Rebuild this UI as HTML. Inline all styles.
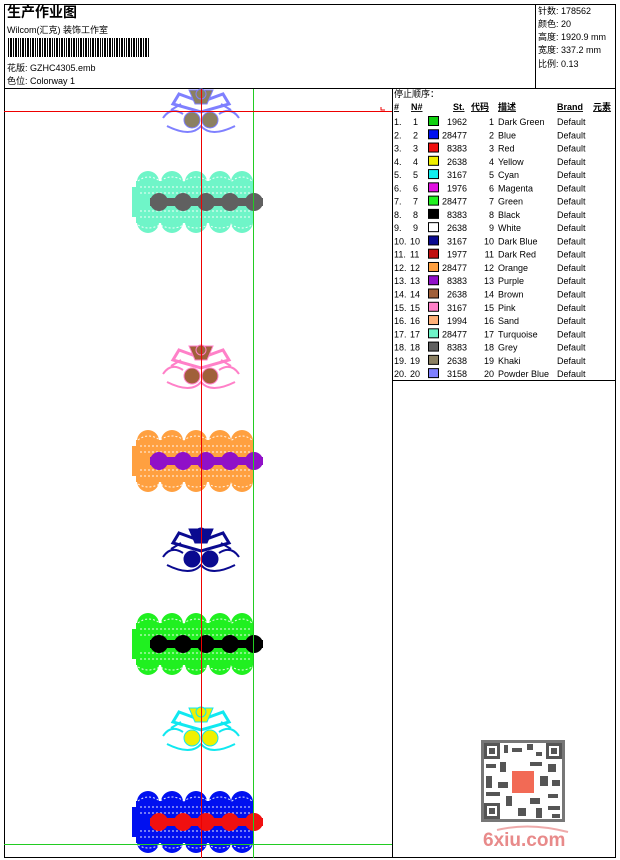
<!DOCTYPE html>
<html><head><meta charset="utf-8"><style>
body{margin:0;background:#fff;width:620px;height:860px;overflow:hidden}
svg{display:block}
text{font-family:"Liberation Sans","Noto Sans CJK SC",sans-serif;font-size:9px;fill:#000}
</style></head><body>
<svg width="620" height="860" viewBox="0 0 620 860">
<defs>
<g id="band">
  <rect x="136" y="8" width="117" height="42" fill="currentColor"/>
  <circle cx="148" cy="9" r="11" fill="currentColor"/><circle cx="172" cy="9" r="11" fill="currentColor"/><circle cx="196" cy="9" r="11" fill="currentColor"/><circle cx="220" cy="9" r="11" fill="currentColor"/><circle cx="242" cy="9" r="11" fill="currentColor"/>
  <circle cx="148" cy="49" r="11" fill="currentColor"/><circle cx="172" cy="49" r="11" fill="currentColor"/><circle cx="196" cy="49" r="11" fill="currentColor"/><circle cx="220" cy="49" r="11" fill="currentColor"/><circle cx="242" cy="49" r="11" fill="currentColor"/>
  <rect x="132" y="14" width="6" height="30" fill="currentColor"/>
  <g stroke="#fff" stroke-width="1" stroke-dasharray="2 2" opacity=".9" fill="none">
   <line x1="140" y1="14" x2="250" y2="14"/><line x1="140" y1="20" x2="250" y2="20"/><line x1="140" y1="38" x2="250" y2="38"/><line x1="140" y1="44" x2="250" y2="44"/>
   <path d="M138 8 Q148 0 160 8 Q172 0 184 8 Q196 0 208 8 Q220 0 232 8 Q242 0 252 8"/>
   <path d="M138 52 Q148 58 160 52 Q172 58 184 52 Q196 58 208 52 Q220 58 232 52 Q242 58 252 52"/>
  </g>
</g>
<g id="flowers">
  <circle cx="159" r="9"/><circle cx="183" r="9"/><circle cx="206" r="9"/><circle cx="230" r="9"/><circle cx="254" r="9"/>
  <rect x="150" y="-4" width="113" height="8"/>
</g>
<g id="orn">
  <path d="M-22 -20 L0 -12 L22 -20 L28 -10 L0 -2 L-28 -10 Z" stroke-width="3" fill="none"/>
  <path d="M-12 -24 L12 -24 L6 -10 L-6 -10 Z"/>
  <circle cx="0" cy="-20" r="5"/>
  <circle cx="-9" cy="6" r="8"/><circle cx="9" cy="6" r="8"/>
  <path d="M-38 4 Q-30 -8 -18 0 M38 4 Q30 -8 18 0 M-34 12 Q-10 24 0 12 Q10 24 34 12 M-30 -4 L-20 -10 M30 -4 L20 -10" fill="none" stroke-width="2"/>
</g>
</defs>
<rect x="4.5" y="4.5" width="611" height="853" fill="none" stroke="#000"/>
<line x1="4" y1="88.5" x2="616" y2="88.5" stroke="#000"/>
<line x1="535.5" y1="4" x2="535.5" y2="88" stroke="#000"/>
<line x1="392.5" y1="88" x2="392.5" y2="858" stroke="#000"/>
<line x1="392" y1="380.5" x2="616" y2="380.5" stroke="#000"/>
<text x="7" y="17" style="font-size:14px;font-weight:bold">生产作业图</text>
<text x="7" y="33">Wilcom(汇克) 装饰工作室</text>
<g fill="#000">
<rect x="8" y="38" width="1" height="19"/><rect x="10" y="38" width="2" height="19"/><rect x="13" y="38" width="1" height="19"/><rect x="15" y="38" width="2" height="19"/><rect x="18" y="38" width="1" height="19"/><rect x="20" y="38" width="1" height="19"/><rect x="22" y="38" width="2" height="19"/><rect x="25" y="38" width="1" height="19"/><rect x="27" y="38" width="2" height="19"/><rect x="30" y="38" width="1" height="19"/><rect x="32" y="38" width="2" height="19"/><rect x="35" y="38" width="1" height="19"/><rect x="37" y="38" width="1" height="19"/><rect x="39" y="38" width="2" height="19"/><rect x="42" y="38" width="1" height="19"/><rect x="44" y="38" width="2" height="19"/><rect x="47" y="38" width="1" height="19"/><rect x="49" y="38" width="2" height="19"/><rect x="52" y="38" width="1" height="19"/><rect x="54" y="38" width="1" height="19"/><rect x="56" y="38" width="2" height="19"/><rect x="59" y="38" width="1" height="19"/><rect x="61" y="38" width="2" height="19"/><rect x="64" y="38" width="1" height="19"/><rect x="66" y="38" width="1" height="19"/><rect x="68" y="38" width="2" height="19"/><rect x="71" y="38" width="1" height="19"/><rect x="73" y="38" width="2" height="19"/><rect x="76" y="38" width="1" height="19"/><rect x="78" y="38" width="1" height="19"/><rect x="80" y="38" width="2" height="19"/><rect x="83" y="38" width="1" height="19"/><rect x="85" y="38" width="2" height="19"/><rect x="88" y="38" width="1" height="19"/><rect x="90" y="38" width="1" height="19"/><rect x="92" y="38" width="2" height="19"/><rect x="95" y="38" width="1" height="19"/><rect x="97" y="38" width="2" height="19"/><rect x="100" y="38" width="1" height="19"/><rect x="102" y="38" width="1" height="19"/><rect x="104" y="38" width="2" height="19"/><rect x="107" y="38" width="1" height="19"/><rect x="109" y="38" width="2" height="19"/><rect x="112" y="38" width="1" height="19"/><rect x="114" y="38" width="1" height="19"/><rect x="116" y="38" width="2" height="19"/><rect x="119" y="38" width="1" height="19"/><rect x="121" y="38" width="2" height="19"/><rect x="124" y="38" width="1" height="19"/><rect x="126" y="38" width="1" height="19"/><rect x="128" y="38" width="2" height="19"/><rect x="131" y="38" width="1" height="19"/><rect x="133" y="38" width="2" height="19"/><rect x="136" y="38" width="1" height="19"/><rect x="138" y="38" width="1" height="19"/><rect x="140" y="38" width="2" height="19"/><rect x="143" y="38" width="1" height="19"/><rect x="145" y="38" width="2" height="19"/><rect x="148" y="38" width="1" height="19"/>
</g>
<text x="7" y="71">花版:  GZHC4305.emb</text>
<text x="7" y="84">色位:  Colorway 1</text>
<text x="538" y="14">针数:  178562</text>
<text x="538" y="27">颜色:  20</text>
<text x="538" y="40">高度:  1920.9 mm</text>
<text x="538" y="53">宽度:  337.2 mm</text>
<text x="538" y="67">比例:  0.13</text>
<g transform="translate(201,114)" fill="#8b8062" stroke="#7f80ff"><use href="#orn"/></g>
<g transform="translate(201,370)" fill="#a0603a" stroke="#ff80c8"><use href="#orn"/></g>
<g transform="translate(201,553)" fill="#0a0a90" stroke="#0a0a90"><use href="#orn"/></g>
<g transform="translate(201,732)" fill="#f0f000" stroke="#10e8f0"><use href="#orn"/></g>
<g transform="translate(0,173)" style="color:#6ff5c8"><use href="#band"/></g>
<g transform="translate(0,202)" fill="#606060"><use href="#flowers"/></g>
<g transform="translate(0,432)" style="color:#ffa040"><use href="#band"/></g>
<g transform="translate(0,461)" fill="#9010c8"><use href="#flowers"/></g>
<g transform="translate(0,615)" style="color:#20f020"><use href="#band"/></g>
<g transform="translate(0,644)" fill="#000"><use href="#flowers"/></g>
<g transform="translate(0,793)" style="color:#0010f0"><use href="#band"/></g>
<g transform="translate(0,822)" fill="#f01010"><use href="#flowers"/></g>
<line x1="201.5" y1="89" x2="201.5" y2="858" stroke="#e00"/>
<line x1="253.5" y1="89" x2="253.5" y2="858" stroke="#2c2"/>
<line x1="4" y1="111.5" x2="392" y2="111.5" stroke="#e00"/>
<line x1="4" y1="844.5" x2="392" y2="844.5" stroke="#2c2"/>
<path d="M381 107 v3 h4" stroke="#e00" fill="none"/>
<text x="394" y="97">停止顺序：</text>
<g style="font-weight:bold;text-decoration:underline">
<text x="394" y="110">#</text><text x="411" y="110">N#</text><text x="453" y="110">St.</text><text x="471" y="110">代码</text><text x="498" y="110">描述</text><text x="557" y="110">Brand</text><text x="593" y="110">元素</text>
</g>
<g id="rows"></g>
<g fill="#555">
<rect x="481" y="740" width="84" height="82" fill="#777"/>
<rect x="484" y="743" width="78" height="76" fill="#fff"/>
<rect x="484" y="743" width="16" height="16"/><rect x="487" y="746" width="10" height="10" fill="#fff"/><rect x="489" y="748" width="6" height="6"/>
<rect x="546" y="743" width="16" height="16"/><rect x="549" y="746" width="10" height="10" fill="#fff"/><rect x="551" y="748" width="6" height="6"/>
<rect x="484" y="803" width="16" height="16"/><rect x="487" y="806" width="10" height="10" fill="#fff"/><rect x="489" y="808" width="6" height="6"/>
<rect x="504" y="745" width="4" height="8"/><rect x="512" y="748" width="10" height="4"/><rect x="527" y="744" width="6" height="6"/><rect x="536" y="752" width="6" height="4"/><rect x="486" y="764" width="10" height="4"/><rect x="500" y="762" width="6" height="10"/><rect x="530" y="762" width="12" height="4"/><rect x="548" y="764" width="8" height="8"/><rect x="486" y="776" width="6" height="12"/><rect x="498" y="782" width="10" height="6"/><rect x="540" y="776" width="8" height="10"/><rect x="552" y="780" width="8" height="6"/><rect x="486" y="792" width="14" height="4"/><rect x="506" y="796" width="6" height="10"/><rect x="530" y="798" width="10" height="6"/><rect x="548" y="794" width="10" height="4"/><rect x="518" y="808" width="8" height="8"/><rect x="536" y="808" width="6" height="10"/><rect x="548" y="806" width="12" height="4"/><rect x="552" y="814" width="8" height="4"/>
</g>
<rect x="512" y="771" width="22" height="22" fill="#f26a55"/>
<text x="483" y="846" style="font-size:19px;font-weight:bold;fill:#e88a8a">6xiu.com</text>
<path d="M497 830 Q530 822 568 832" stroke="#eaa" stroke-width="2" fill="none"/>
</svg>
<script>
const rows=[["#10d010","1962","Dark Green"],["#0010f0","28477","Blue"],["#f01010","8383","Red"],["#f0f000","2638","Yellow"],["#10f0f0","3167","Cyan"],["#e010e0","1976","Magenta"],["#20f020","28477","Green"],["#000000","8383","Black"],["#ffffff","2638","White"],["#0a0a90","3167","Dark Blue"],["#c01010","1977","Dark Red"],["#ffa040","28477","Orange"],["#9010c8","8383","Purple"],["#a0603a","2638","Brown"],["#ff80c8","3167","Pink"],["#ffb078","1994","Sand"],["#6ff5c8","28477","Turquoise"],["#606060","8383","Grey"],["#8b8062","2638","Khaki"],["#7f80ff","3158","Powder Blue"]];
const g=document.getElementById('rows');let h="";
rows.forEach((r,i)=>{const y=125+i*13.27;const n=i+1;
h+=`<text x="394" y="${y}">${n}.</text><text x="${n<10?413:410}" y="${y}">${n}</text>`;
h+=`<rect x="428.5" y="${y-8.5}" width="10" height="9" fill="${r[0]}" stroke="#000"/>`;
h+=`<text x="467" y="${y}" text-anchor="end">${r[1]}</text><text x="494" y="${y}" text-anchor="end">${n}</text><text x="498" y="${y}">${r[2]}</text><text x="557" y="${y}">Default</text>`;});
g.innerHTML=h;
</script>
</body></html>
